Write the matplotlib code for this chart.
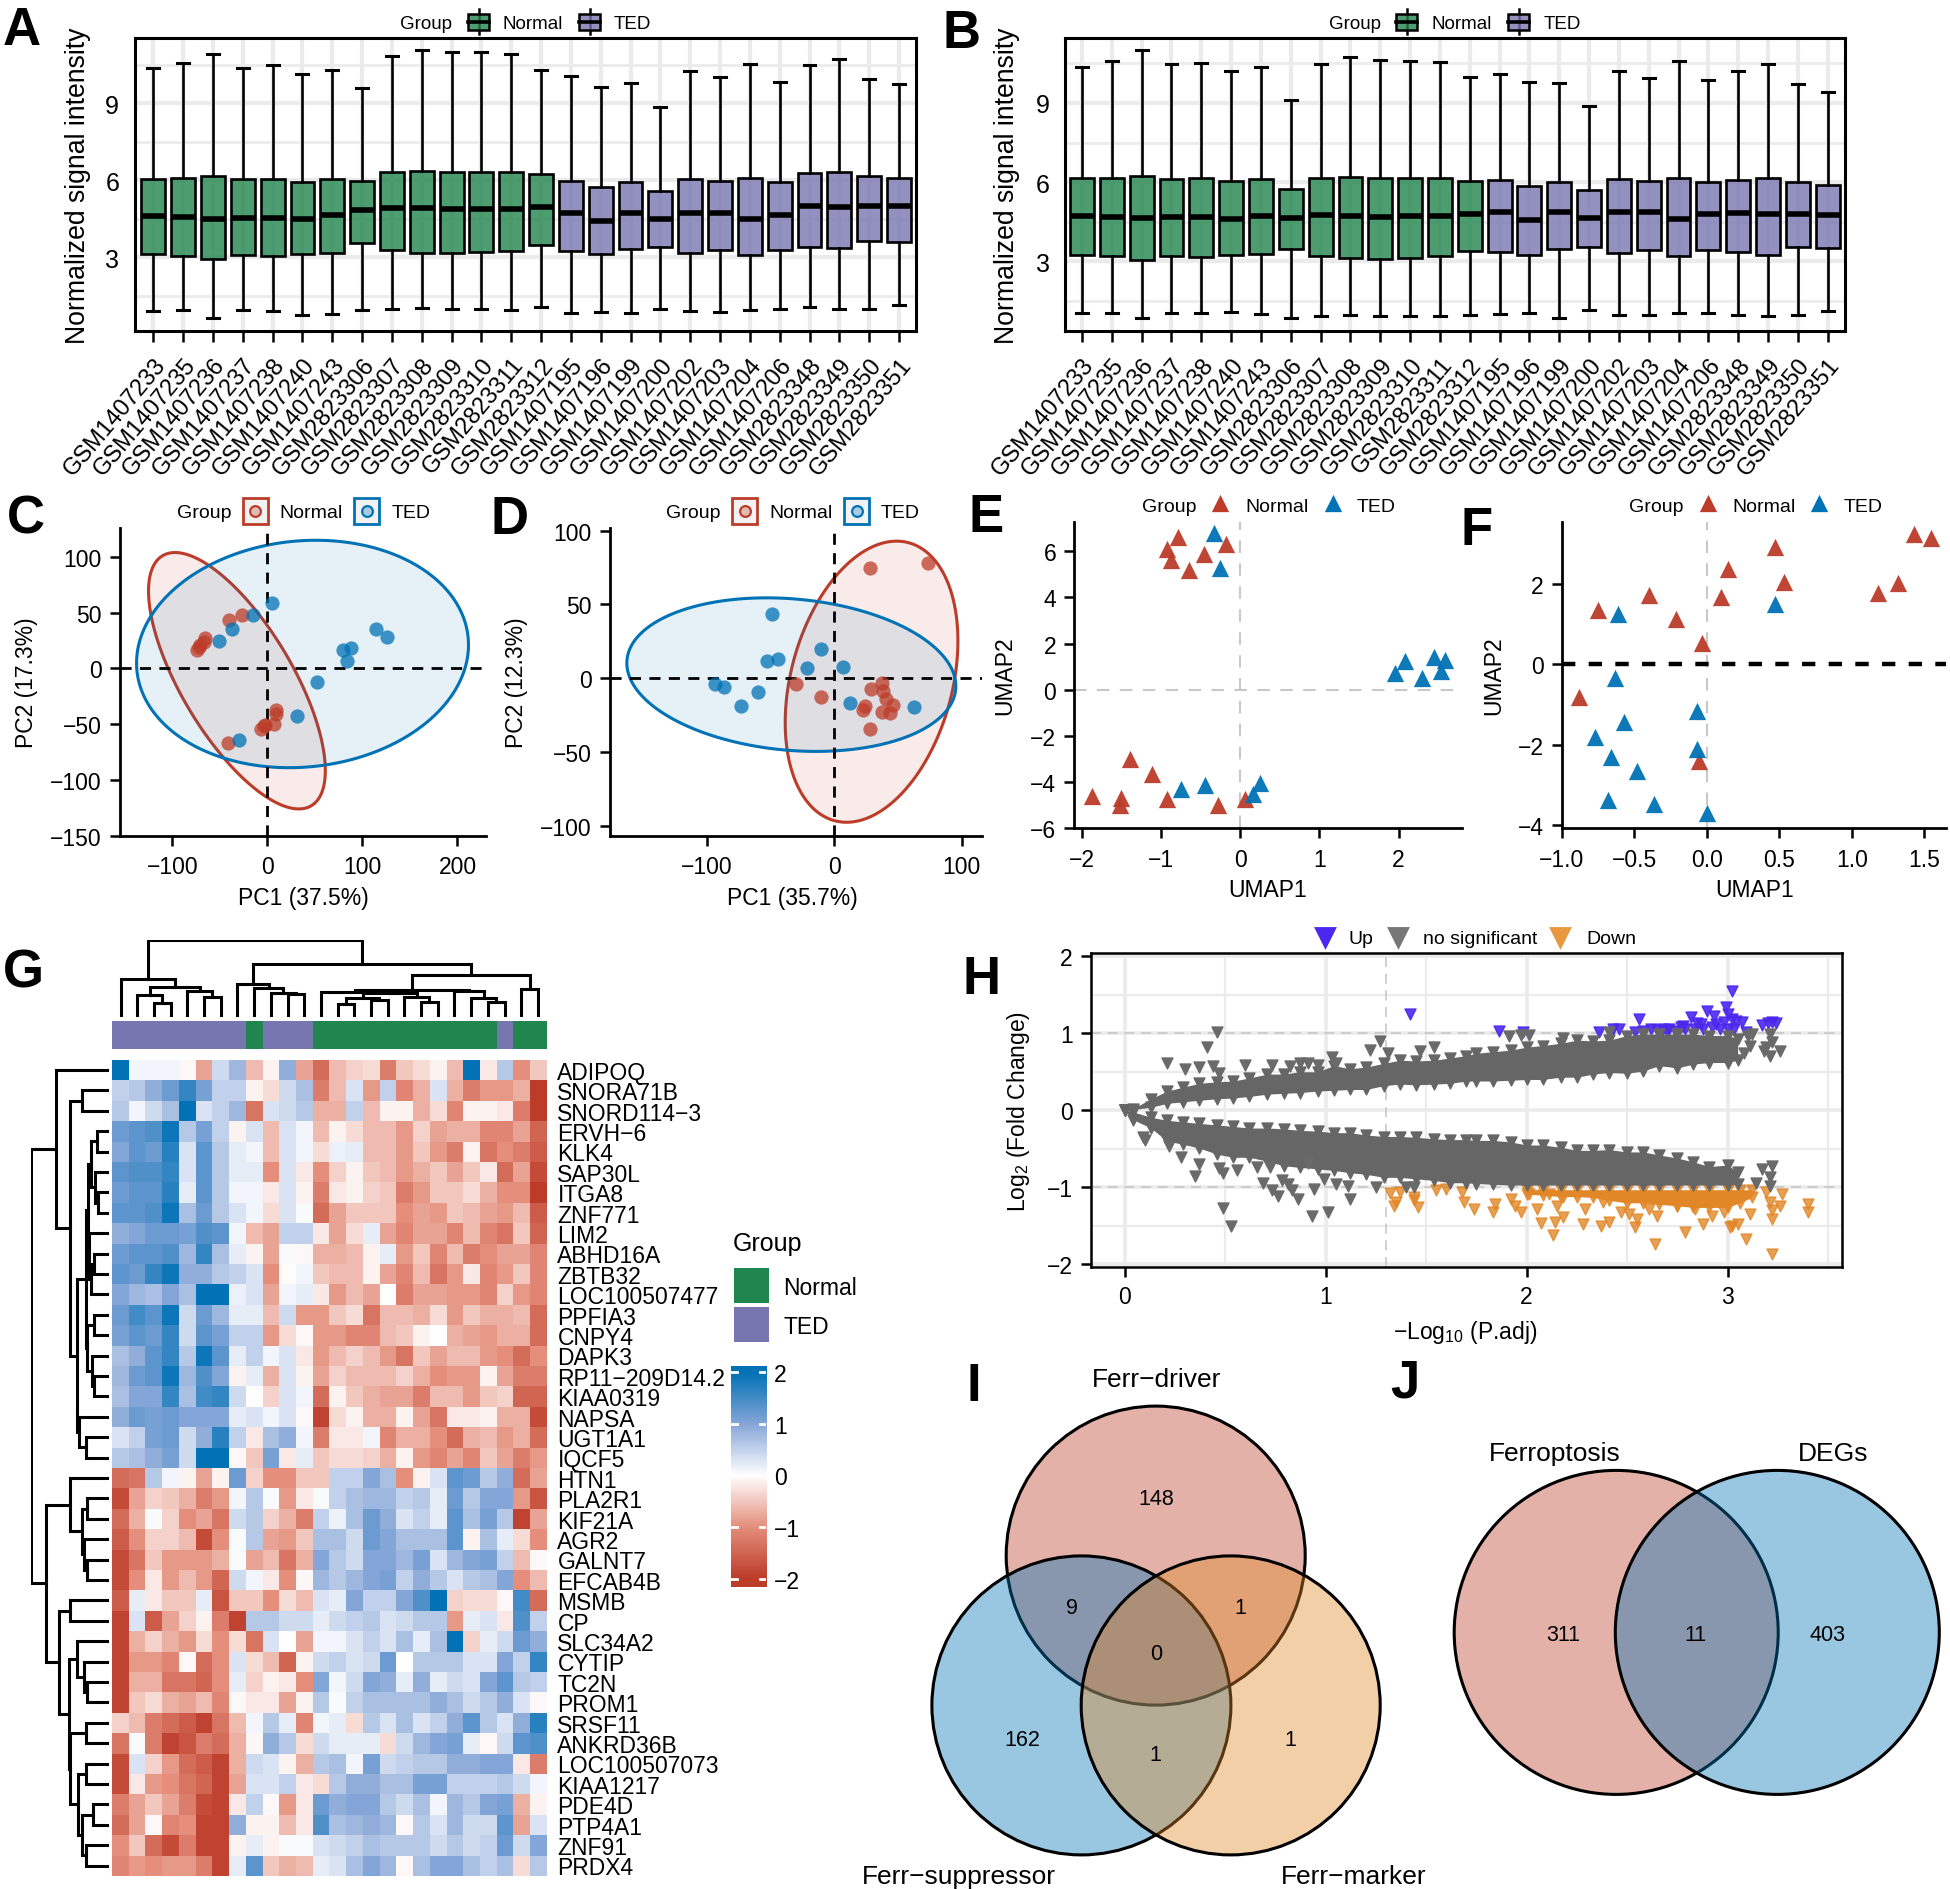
import numpy as np
import matplotlib
matplotlib.use("Agg")
import matplotlib.pyplot as plt
from matplotlib.colors import LinearSegmentedColormap, ListedColormap
from matplotlib.patches import Rectangle, Circle

plt.rcParams['font.family'] = ['Liberation Sans', 'DejaVu Sans']
plt.rcParams['mathtext.default'] = 'regular'
plt.rcParams['axes.unicode_minus'] = True

W, H = 1950, 1890
RED, BLUE, GREEN, PURPLE, ORANGE = '#BC3C29', '#0072B5', '#20854E', '#7876B1', '#E18727'

# --- boxplots A and B
samples = ['GSM1407233', 'GSM1407235', 'GSM1407236', 'GSM1407237', 'GSM1407238', 'GSM1407240', 'GSM1407243',
           'GSM2823306', 'GSM2823307', 'GSM2823308', 'GSM2823309', 'GSM2823310', 'GSM2823311', 'GSM2823312',
           'GSM1407195', 'GSM1407196', 'GSM1407199', 'GSM1407200', 'GSM1407202', 'GSM1407203', 'GSM1407204',
           'GSM1407206', 'GSM2823348', 'GSM2823349', 'GSM2823350', 'GSM2823351']
n_normal = 14

a_top = [10.38, 10.56, 10.91, 10.38, 10.47, 10.15, 10.30, 9.60, 10.82, 11.06, 11.00, 10.98, 10.90, 10.29,
         10.07, 9.64, 9.79, 8.86, 10.25, 10.02, 10.51, 9.83, 10.50, 10.73, 9.95, 9.74]
a_q3 = [6.06, 6.10, 6.15, 6.05, 6.05, 5.95, 6.05, 5.99, 6.31, 6.36, 6.32, 6.32, 6.32, 6.23,
        5.99, 5.75, 5.93, 5.60, 6.05, 5.99, 6.08, 5.93, 6.27, 6.32, 6.15, 6.08]
a_med = [4.61, 4.56, 4.50, 4.54, 4.54, 4.50, 4.63, 4.84, 4.93, 4.91, 4.87, 4.89, 4.87, 4.95,
         4.74, 4.41, 4.72, 4.51, 4.73, 4.73, 4.50, 4.64, 4.99, 4.95, 5.00, 4.98]
a_q1 = [3.12, 3.07, 2.93, 3.09, 3.05, 3.13, 3.16, 3.55, 3.29, 3.17, 3.16, 3.20, 3.26, 3.46,
        3.25, 3.12, 3.33, 3.42, 3.18, 3.29, 3.09, 3.29, 3.42, 3.35, 3.62, 3.59]
a_low = [.90, .94, .63, .94, .92, .77, .81, .94, .97, 1.01, .98, 1.00, .94, 1.05,
         .84, .88, .84, .97, .92, .88, .94, .97, 1.07, 1.00, 1.00, 1.15]

b_top = [10.37, 10.59, 10.99, 10.46, 10.53, 10.22, 10.38, 9.13, 10.46, 10.75, 10.63, 10.59, 10.54, 10.00,
         10.08, 9.78, 9.76, 8.90, 10.22, 9.94, 10.58, 9.86, 10.20, 10.49, 9.70, 9.41]
b_q3 = [6.14, 6.15, 6.24, 6.11, 6.14, 6.05, 6.13, 5.75, 6.14, 6.18, 6.14, 6.14, 6.15, 6.04,
        6.08, 5.87, 5.99, 5.71, 6.10, 6.04, 6.15, 6.00, 6.09, 6.15, 6.00, 5.89]
b_med = [4.72, 4.67, 4.63, 4.67, 4.67, 4.61, 4.73, 4.65, 4.76, 4.72, 4.67, 4.71, 4.71, 4.78,
         4.86, 4.56, 4.86, 4.63, 4.86, 4.86, 4.61, 4.78, 4.84, 4.80, 4.81, 4.77]
b_q1 = [3.25, 3.19, 3.06, 3.20, 3.18, 3.25, 3.27, 3.48, 3.22, 3.13, 3.09, 3.11, 3.19, 3.38,
        3.37, 3.24, 3.47, 3.56, 3.33, 3.41, 3.20, 3.43, 3.34, 3.25, 3.56, 3.52]
b_low = [1.03, 1.05, .86, 1.05, 1.03, 1.08, .99, .85, .94, .96, .91, .92, .92, .97,
         1.00, 1.05, .86, 1.15, .97, .95, 1.06, 1.05, .95, .94, .97, 1.11]

# --- PCA C and D
c_normal_x = [-26.3, -40.8, -65.1, -66.4, -71, -74.3, -72, 9.2, 8.6, 7.2, -2.6, -4, -6.6, -41.4]
c_normal_y = [47.9, 43.1, 26.9, 24, 21, 17, 19, -37.4, -40.4, -50, -50.3, -51.5, -53.9, -66.5]
c_ted_x = [4.6, -15.1, -37.5, -50.7, 113.8, 125.7, 87.5, 79.6, 83.6, 52, 30.9, -30.3]
c_ted_y = [58.4, 47.6, 35.3, 24.9, 35.3, 27.8, 18, 16.8, 6.9, -12.3, -42.2, -64.4]
d_normal_x = [27.9, 73.5, -29.9, -10.3, 28.9, 37.3, 38.2, 40.7, 46, 24, 23, 37.3, 43.6, 28.4]
d_normal_y = [74.5, 77.9, -3.8, -12.6, -7.2, -3.2, -8.4, -14, -17.8, -18.5, -21.2, -23, -23.5, -34.5]
d_ted_x = [-49, -10.3, -52.9, -43.6, -21.6, 6.9, -93.1, -86.3, -59.3, -73, 12.3, 62.7]
d_ted_y = [43.3, 19.9, 11.7, 12.9, 6.8, 7.9, -4.1, -5.9, -9.3, -18.5, -16.7, -19.2]
# ellipses: centre x, centre y, half width, half height, correlation
c_normal_ell = (-32, -11, 93, 115, -0.70)
c_ted_ell = (37, 13, 174.6, 102, 0.08)
d_normal_ell = (29.4, -2.3, 67.7, 95.2, 0.29)
d_ted_ell = (-33.5, 2.5, 129, 52, -0.15)

# --- UMAP E and F
e_normal_x = [-.79, -.92, -.88, -.65, -.46, -.18, -1.39, -1.12, -1.87, -1.5, -1.52, -.93, -.28, .06]
e_normal_y = [6.6, 6.1, 5.6, 5.2, 5.9, 6.3, -3.0, -3.66, -4.62, -4.7, -5.0, -4.71, -4.99, -4.74]
e_ted_x = [-.33, -.25, 2.08, 1.96, 2.3, 2.45, 2.58, 2.53, -.75, -.45, .16, .25]
e_ted_y = [6.78, 5.27, 1.23, .71, .51, 1.4, 1.29, .82, -4.28, -4.13, -4.52, -4.05]
f_normal_x = [1.43, 1.55, .47, .15, .53, 1.32, 1.18, .10, -.40, -.75, -.21, -.03, -.88, -.05]
f_normal_y = [3.24, 3.13, 2.92, 2.37, 2.05, 2.01, 1.76, 1.67, 1.71, 1.35, 1.12, .54, -.82, -2.39]
f_ted_x = [.47, -.61, -.63, -.07, -.57, -.77, -.07, -.66, -.48, -.68, -.36, 0]
f_ted_y = [1.5, 1.25, -.34, -1.15, -1.44, -1.81, -2.09, -2.29, -2.64, -3.36, -3.47, -3.7]

# --- heatmap G
genes = ['ADIPOQ', 'SNORA71B', 'SNORD114\u22123', 'ERVH\u22126', 'KLK4', 'SAP30L', 'ITGA8', 'ZNF771', 'LIM2',
         'ABHD16A', 'ZBTB32', 'LOC100507477', 'PPFIA3', 'CNPY4', 'DAPK3', 'RP11\u2212209D14.2', 'KIAA0319',
         'NAPSA', 'UGT1A1', 'IQCF5', 'HTN1', 'PLA2R1', 'KIF21A', 'AGR2', 'GALNT7', 'EFCAB4B', 'MSMB', 'CP',
         'SLC34A2', 'CYTIP', 'TC2N', 'PROM1', 'SRSF11', 'ANKRD36B', 'LOC100507073', 'KIAA1217', 'PDE4D',
         'PTP4A1', 'ZNF91', 'PRDX4']
# 0 Normal, 1 TED
col_groups = [1, 1, 1, 1, 1, 1, 1, 1, 0, 1, 1, 1, 0, 0, 0, 0, 0, 0, 0, 0, 0, 0, 0, 1, 0, 0]
heat = [
    [2, .1, .1, .1, -.05, -.8, .4, .8, -.6, -.1, .9, -.8, -1.4, -.6, -.4, -.3, -1.2, -.5, -.3, -.1, -.6, 2, -.2, .6, -1.0, -.5],
    [.5, .6, .9, 1.2, 1.6, 1.1, .5, .5, -.1, -.3, .4, .7, -1.2, -.6, .3, -.9, .5, -1.1, -.7, .3, -.7, -1.2, -.9, -.9, -.7, -2],
    [.6, .1, .4, .7, 2, .3, .5, .8, -1.3, .3, .4, .6, -.7, -.7, .5, -.6, -.1, -.1, -.7, -.3, -1.1, -.1, -.1, -.2, -1.2, -2],
    [1.2, 1.3, 1.4, 1.9, .6, 1.1, .5, -.1, .3, -.6, .3, .1, -.6, -.1, -.3, -.6, -.6, -.9, -.4, -.8, -.7, -.7, -1.1, -1.1, -.8, -1.5],
    [1.0, 1.3, 1.2, 1.7, .3, 1.3, .6, .2, .1, -.6, .3, .1, -.3, .15, .2, -.6, -.6, -.9, -.5, -.9, -1.2, -.1, -1.3, -1.0, -1.2, -1.6],
    [1.3, 1.4, 1.4, 1.6, .3, 1.3, .6, .2, .2, -1, .3, -.2, -1, -.4, -.1, -.5, -.6, -.9, -.7, -.5, -.8, -.5, -.2, -1.4, -.8, -1.8],
    [1.2, 1.3, 1.3, 1.7, .2, 1.3, .6, .1, .1, -.2, .3, -.1, -1.2, -.2, -.1, -.4, -.5, -1.2, -.9, -.5, -.5, -.3, -.7, -1, -1, -2],
    [1.3, 1.3, 1.4, 1.9, .7, 1.2, .6, .3, .1, -.3, .3, .05, -1.4, -.8, -.5, -.5, -.5, -1, -.8, -.9, -.5, -.6, -.8, -.9, -.6, -1.6],
    [.9, 1.0, 1.2, 1.2, 1.1, 1.4, 1.3, .1, -.6, -.8, .5, .5, -.2, -.8, -.3, .2, -.8, -1.1, -.8, -.8, -1.1, -.6, -1.1, -1.3, -.5, -1.5],
    [1.2, 1.3, 1.3, 1.4, .8, 1.6, .7, .2, -.1, -.8, .05, -.05, -.7, -.7, -.6, -.1, .2, -.9, -.5, -1.1, -.6, -1.2, -1.0, -.8, -.8, -1.1],
    [1.3, 1.2, 1.6, 1.9, .9, .9, .6, .5, .3, -1.0, -.02, .1, -.5, -.6, -.6, -.1, -.8, -1.1, -.6, -1.3, -.9, -.2, -1.1, -.9, -.5, -1.1],
    [1.0, .8, .7, 1.0, .7, 2, 2, .15, .3, -.8, .1, .2, -.2, -.9, -.6, -.8, 0, -1.2, -.8, -.8, -.9, -.9, -1.1, -.4, -.9, -1.1],
    [1.2, 1.5, 1.3, 1.9, .4, 1.2, .8, .2, .2, -.6, .4, -.9, -.9, -.5, -.3, -1.3, -.6, -.6, -.7, -.3, -.9, -.5, -.7, -.7, -.6, -1.4],
    [1.1, 1.3, 1.2, 1.6, .4, 1.3, 1.1, .5, .5, -.9, -.3, -.05, -.9, -.9, -1.1, -1.1, -.6, -.5, -.1, 0, -.7, -.8, -.9, -.7, -.7, -1.4],
    [.7, .9, 1.3, 1.6, .6, 1.9, 1.3, .2, .5, .1, .3, -.2, -.9, -.6, -.4, -.6, -.9, -1.3, -.5, -.8, -.6, -.6, -.9, -1, -1.4, -1],
    [.8, 1.2, 1.3, 1.9, .8, 1.4, 1, -.1, .2, -.7, .3, -.1, -.8, -.4, -.6, -.6, -.6, -.4, -.7, -1, -.9, -.9, -.1, -.8, -1.2, -1.2],
    [.7, 1.0, 1.0, 1.6, .7, 1.5, 1.6, .4, 0, -.4, .3, .1, -1.4, -.1, -.5, -.7, -.8, -.8, -1.2, -.6, -.6, -.9, -.5, -.4, -1.5, -1.5],
    [.9, 1.2, 1.1, 1.2, 1, 1, 1, .2, .3, .1, .3, -.05, -1.9, -.3, -.1, -.7, -.7, -.1, -.8, -1.3, -.2, -.2, -.1, -.7, -.7, -1.8],
    [.3, .5, 1.1, 1.2, .4, .9, 1.7, .5, -.2, .7, .9, .1, -1.2, -.2, -.2, .1, -1.1, -.7, -.7, -1, -1.4, -.7, -.6, -.9, -.7, -1.4],
    [.6, .7, .9, 1.1, .4, 2, 2, -.05, -.5, 1.1, -.2, .2, -.5, -.3, -.3, -.4, -.7, -.1, -.9, -1.1, -.8, -1.1, -.5, -.8, -1.2, -.9],
    [-1.4, -1.3, .6, .1, -.1, -.8, -.1, 1.2, -.4, -1, -1, -.5, -.5, .5, .5, 1, .7, -1, -.1, .3, 1.3, 1.2, .6, .9, -1.4, -.8],
    [-1.8, -.8, -.4, -.5, -.7, -1.2, -.9, .1, .6, .05, -.9, -.2, .05, .5, .7, .8, .8, .5, .6, .2, 1.2, .6, 1, 1, -.9, -1.7],
    [-1.4, -.7, .05, -.4, -1, -.8, -1.3, .4, .6, -.4, -.7, -1.2, .5, .15, .7, 1.2, .9, .3, .5, .2, 1.3, .7, 1.1, .6, -1.9, -.8],
    [-1.6, -1, -.4, -.4, -.6, -1.8, -1.0, .05, .6, -.8, -.9, -.5, .7, .7, .4, 1.2, 1, .7, .7, .7, 1.3, -.1, .7, .2, -.3, -1],
    [-1.8, -1.3, -.5, -.9, -.9, -.9, -.7, .05, -.8, -.6, -1.3, -.7, 1, .6, .4, 1, 1, .8, 1.1, .3, .8, 1, 1.1, .5, -.6, -.05],
    [-1.8, -1, -.2, -.9, -.6, -.9, -1.5, .4, .1, -.2, -1, -.05, .8, .6, .8, 1, 1.1, .5, .9, .6, .3, .6, .7, 1, -1, -.6],
    [-1.6, .2, -.2, -.5, -.5, .2, -1.7, -.5, -.5, -1, -.3, -.6, .3, .2, 1, .5, .5, 1, 1.4, 2, -.4, -.3, -.3, -.05, 1.5, -1.4],
    [-1.9, .3, -1.6, -.8, -.4, -.1, -1.2, -1.9, .6, .6, .4, .4, .2, .4, .5, .6, .3, .4, .6, .6, -.9, .2, .3, -.2, 1.4, .5],
    [-1.9, -.7, -.4, -.7, -.9, -.3, -1, -.3, -1.3, .3, 0, -.8, .1, .1, .3, .5, .3, .7, .2, .7, 2, -.4, .2, .4, 1.2, .9],
    [-1.9, -.9, -.9, -1.1, -.05, -1.4, -1.0, .3, -.3, -.6, -1.5, -.1, .4, .5, .3, .4, 1.2, 0, .6, .6, .6, .3, .3, 1, .5, 1.6],
    [-1.9, -.7, -.7, -1.3, -1.3, -1.5, -1.0, .2, -.4, -.1, -.2, -1, 1, .1, .4, 1, .9, .2, .9, .2, .4, .3, 1, 1.3, .6, .5],
    [-1.9, -.5, -.3, -.7, -.8, -.6, -1.1, -.05, -.2, -.2, -.8, -.1, .6, .05, .5, .7, .7, .7, .7, .9, .7, .4, .6, .9, .3, -.05],
    [-.4, -.6, -1.2, -1.4, -1.6, -1.9, -1.3, -.6, .1, .6, .2, -1.1, .1, .2, -.3, .6, .3, .7, .3, .5, .9, 1.3, .6, .3, .9, 1.7],
    [-1.3, .05, -1.2, -1.9, -1.7, -1.2, -1.4, -.7, -.05, .9, .6, -.3, .4, .2, .2, .2, -.3, .4, .8, 1, 1.1, .2, -.05, .4, 1.3, 1.4],
    [-1.8, .3, -.4, -.9, -1.4, -1.6, -1.9, -.7, .4, .3, -.1, -.7, .6, .7, .1, 1.1, .4, .5, .6, .6, .9, .9, 1, 1, -.2, -1.2],
    [-1.8, -.2, -.9, -1, -1.3, -1.5, -1.9, -.8, .3, .3, .5, -.2, -.3, .6, .9, .9, .7, .7, 1.1, 1.1, .5, .5, .5, .6, .4, .1],
    [-1.2, -.8, -.5, -.8, -1.2, -1.8, -1.9, -.2, .5, -.05, -.9, -.2, 1.2, .9, 1, 1, .6, .4, .7, .1, .8, .6, 1, 1.1, -.7, -.1],
    [-1.4, -.8, -.05, -1.1, -1, -1.9, -1.9, .9, -.1, -.1, -.6, -.2, 1.4, .7, .8, .9, .8, -.05, .6, .3, .8, .4, .4, 1.3, -.8, .3],
    [-1, -.5, -1.4, -1.8, -1.2, -1.9, -1.9, -.1, .2, -.1, .05, .05, .3, .4, .5, .7, .6, .6, .6, .4, .6, .4, .5, 1.2, .4, 1],
    [-1.1, -.9, -1, -.9, -.9, -1.2, -1.9, .2, 1.3, -.5, -.7, -.6, .2, .3, .7, 1, .8, -.05, .7, 1, 1, .7, .5, .7, -.3, .6],
]

# dendrograms: (height, left, right), leaves are L and come in plot order
L = None
col_tree = (10.0,
            (4.89, L, (3.81, (2.81, L, (1.77, L, L)), (3.29, L, (2.51, L, L)))),
            (6.84,
             (4.24, L, (3.68, L, (3.07, L, (2.94, L, L)))),
             (5.45,
              (3.46,
               (3.25, L, (3.07, (2.42, (1.65, L, L), (2.21, L, L)), (2.51, L, (1.86, L, L)))),
               (3.38, L, (2.38, L, (1.95, L, L)))),
              (3.59, L, L))))
rows_a = (2.24, (1.5, L, L), (1.7, L, (1.36, L, L)))
rows_b = (2.52, L, (2.24, (1.84, L, L), L))
rows_c = (2.72, (1.84, L, L), (2.18, L, (1.84, L, L)))
rows_d = (3.74, L, (2.86, L, L))
rows_e = (4.08, (2.86, (2.6, rows_a, rows_b), rows_c), rows_d)
rows_f = (4.9, L, (3.4, (2.72, L, L), (3.2, L, (2.72, L, L))))
rows_g = (4.08, L, (3.2, L, (2.72, L, L)))
rows_h = (5.0, (2.86, L, L), (3.95, (2.86, L, L), (3.4, (2.04, L, L), (2.86, L, L))))
row_tree = (10.0,
            (6.8, L, (4.9, (3.4, L, L), rows_e)),
            (8.03, rows_f, (6.33, (4.9, L, L), (5.1, rows_g, rows_h))))

# --- volcano H: outline of the solid grey bands, then the points that stand apart
env_x = [0, .04, .13, .21, .29, .37, .46, .54, .62, .71, .79, .87, .96, 1.04, 1.12, 1.20, 1.29, 1.37, 1.45, 1.54, 1.62,
         1.70, 1.75, 1.83, 1.92, 2.0, 2.08, 2.17, 2.25, 2.33, 2.41, 2.5, 2.58, 2.66, 2.75, 2.83, 2.91, 3.0, 3.05]
up_hi = [0, .02, .15, .25, .30, .35, .37, .38, .42, .47, .47, .50, .50, .58, .54, .56, .61, .65, .64, .65, .68,
         .71, .74, .76, .78, .82, .84, .87, .91, .90, .91, .97, .99, .99, .99, .99, .97, .97, .93]
up_lo = [0, .01, .04, .09, .11, .13, .15, .16, .18, .21, .22, .23, .25, .26, .27, .27, .32, .34, .33, .34, .35,
         .38, .38, .38, .39, .40, .40, .43, .43, .47, .49, .48, .51, .58, .55, .60, .62, .62, .65]
dn_hi = [0, -.02, -.09, -.13, -.15, -.17, -.19, -.21, -.23, -.23, -.24, -.26, -.27, -.29, -.29, -.32, -.34, -.34, -.35,
         -.37, -.38, -.38, -.39, -.39, -.41, -.45, -.45, -.48, -.52, -.52, -.51, -.54, -.54, -.58, -.62, -.67, -.73,
         -.71, -.8]
dn_lo = [0, -.12, -.23, -.40, -.44, -.49, -.57, -.61, -.61, -.66, -.72, -.74, -.76, -.78, -.81, -.83, -.87, -.87, -.89,
         -.91, -.94, -.94, -.95, -.96, -.97, -.97, -.97, -.97, -.97, -.97, -.97, -.97, -.97, -.97, -.97, -.97, -.97,
         -.97, -.96]
grey_x = [.46, .41, .21, .30, .37, .44, .47, .60, .73, .82, .87, .91, .96, 1.03, 1.05, 1.27, 1.22, 1.31, 1.47, 1.54,
          1.91, 1.97, 2.01, 2.18, 2.41, 3.10, 3.12, 3.22, 3.11, 3.19, 3.08, 3.21, 3.26, 3.18, 3.21,
          .09, .10, .22, .28, .37, .35, .47, .49, .56, .49, .53, .66, .69, .73, .76, .86, .93, 1.01, 1.12, 1.05, .94,
          .83, .78, .81, .99, 1.11, 1.25, 1.40, 1.44, .72, .91, 3.17, 3.22, 3.21, 3.21, 3.14]
grey_y = [1.02, .82, .61, .53, .56, .57, .48, .59, .59, .57, .62, .62, .59, .69, .62, .90, .78, .74, .77, .82,
          .97, .98, .98, .94, 1.01, .97, .99, .88, .84, .82, .74, .71, .77, .77, .99,
          -.35, -.39, -.46, -.6, -.7, -.85, -.75, -.81, -.78, -1.27, -1.5, -.74, -.94, -1.04, -1.11, -1.15, -1.37,
          -1.32, -1.15, -.96, -1.02, -1.04, -.91, -.96, -.89, -.98, -1.0, -1.0, -1.0, -.74, -.68, -.76, -.72, -.87,
          -.98, -.94]
up_x = [1.42, 1.86, 1.98, 2.36, 2.43, 2.46, 2.56, 2.54, 2.62, 2.68, 2.77, 2.82, 2.87, 2.9, 2.93, 2.99, 3.0, 3.02, 3.02,
        3.07, 3.09, 3.17, 3.22, 3.24, 3.2, 2.58, 2.65, 2.71, 2.74, 2.79, 2.84, 2.88, 2.92, 2.96, 3.0, 3.03, 2.94, 2.98,
        3.04, 2.85, 2.78, 2.7]
up_y = [1.25, 1.03, 1.01, 1.02, 1.05, 1.05, 1.18, 1.01, 1.06, 1.06, 1.08, 1.21, 1.12, 1.29, 1.22, 1.34, 1.25, 1.55,
        1.19, 1.14, 1.02, 1.11, 1.14, 1.13, 1.13, 1.03, 1.04, 1.05, 1.03, 1.05, 1.06, 1.05, 1.08, 1.05, 1.05, 1.05, 1.12,
        1.14, 1.16, 1.13, 1.1, 1.03]
down_x = [1.32, 1.37, 1.35, 1.34, 1.44, 1.44, 1.46, 1.55, 1.6, 1.68, 1.69, 1.74, 1.84, 1.83, 1.92, 1.94, 1.97, 2.05,
          2.01, 2.11, 2.18, 2.15, 2.07, 2.14, 2.18, 2.13, 2.28, 2.37, 2.41, 2.29, 2.38, 2.47, 2.51, 2.55, 2.54, 2.64,
          2.79, 2.88, 3.02, 3.05, 3.01, 3.09, 3.22, 3.19, 3.27, 3.21, 3.26, 3.22, 3.22, 3.4, 3.4, 3.11, 2.98, 2.92,
          2.84, 2.65, 2.61, 2.75]
down_y = [-1.07, -1.06, -1.19, -1.24, -1.12, -1.17, -1.26, -1.04, -1.02, -1.06, -1.19, -1.28, -1.22, -1.32, -1.15,
          -1.24, -1.32, -1.28, -1.09, -1.09, -1.13, -1.24, -1.46, -1.45, -1.39, -1.62, -1.48, -1.5, -1.45, -1.28, -1.19,
          -1.32, -1.35, -1.41, -1.52, -1.74, -1.58, -1.48, -1.5, -1.48, -1.52, -1.67, -1.87, -1.06, -1.09, -1.19, -1.24,
          -1.3, -1.41, -1.21, -1.32, -1.35, -1.32, -1.37, -1.28, -1.37, -1.28, -1.24]
band_x = [2.0, 2.08, 2.17, 2.25, 2.33, 2.41, 2.5, 2.58, 2.66, 2.75, 2.83, 2.91, 3.0, 3.06, 3.12]
band_hi = [-1.03, -1.03, -1.03, -1.03, -1.03, -1.03, -1.03, -1.03, -1.03, -1.03, -1.03, -1.03, -1.03, -1.03, -1.03]
band_lo = [-1.09, -1.10, -1.12, -1.12, -1.13, -1.17, -1.2, -1.2, -1.22, -1.24, -1.26, -1.26, -1.26, -1.2, -1.13]

# --- venn I and J
venn_i_counts = ['148', '9', '1', '0', '162', '1', '1']
venn_j_counts = ['311', '11', '403']

fig = plt.figure(figsize=(W / 100, H / 100), dpi=100)
fig.patch.set_facecolor('white')


def px_axes(l, t, r, b):
    return fig.add_axes([l / W, 1 - b / H, (r - l) / W, (b - t) / H])


def draw_boxes(ax, top, q3, med, q1, low, ylim, xlim):
    stats = [dict(whishi=top[i], q3=q3[i], med=med[i], q1=q1[i], whislo=low[i], fliers=[]) for i in range(len(top))]
    pos = np.arange(1, len(top) + 1)
    ax.set_axisbelow(True)
    parts = ax.bxp(stats, positions=pos, widths=.8, capwidths=.4, patch_artist=True, showfliers=False,
                   boxprops=dict(linewidth=1.9, edgecolor='black'), medianprops=dict(color='black', linewidth=4),
                   whiskerprops=dict(color='black', linewidth=1.9), capprops=dict(color='black', linewidth=2.2))
    for i, box in enumerate(parts['boxes']):
        col = GREEN if i < n_normal else PURPLE
        box.set_facecolor(matplotlib.colors.to_rgba(col, .8))
    ax.set_xlim(*xlim)
    ax.set_ylim(*ylim)
    ax.set_yticks([3, 6, 9])
    ax.set_yticks([1.5, 4.5, 7.5, 10.5], minor=True)
    ax.grid(True, which='major', color='#EBEBEB', linewidth=3)
    ax.grid(True, which='minor', axis='y', color='#EBEBEB', linewidth=2)
    ax.tick_params(axis='y', which='both', length=0, labelsize=18, pad=11)
    ax.tick_params(axis='x', length=8, width=1.8, pad=8)
    ax.set_xticks(pos)
    ax.set_xticklabels(samples, rotation=50, ha='right', va='top', rotation_mode='anchor', fontsize=17)
    for s in ax.spines.values():
        s.set_linewidth(2.2)


ax_a = px_axes(134.5, 39, 916, 332)
draw_boxes(ax_a, a_top, a_q3, a_med, a_q1, a_low, (.13, 11.54), (.37, 26.57))
ax_b = px_axes(1065, 39, 1845, 332)
draw_boxes(ax_b, b_top, b_q3, b_med, b_q1, b_low, (.36, 11.46), (.43, 26.58))


def style_axes(ax, xlim, ylim, xticks, yticks):
    ax.set_xlim(*xlim)
    ax.set_ylim(*ylim)
    ax.set_xticks(xticks)
    ax.set_yticks(yticks)
    ax.spines['top'].set_visible(False)
    ax.spines['right'].set_visible(False)
    ax.spines['left'].set_linewidth(2)
    ax.spines['bottom'].set_linewidth(2)
    ax.tick_params(length=7, width=1.8, labelsize=16.5, pad=6)
    ax.tick_params(axis='x', pad=7)


def draw_ellipse(ax, ell, col):
    cx, cy, ex, ey, rho = ell
    t = np.linspace(0, 2 * np.pi, 200)
    x = cx + ex * np.cos(t)
    y = cy + ey * (rho * np.cos(t) + np.sqrt(1 - rho ** 2) * np.sin(t))
    ax.fill(x, y, facecolor=matplotlib.colors.to_rgba(col, .1), edgecolor=col, linewidth=2.2, zorder=2)


def pca_panel(ax, normal, ted, ell_n, ell_t):
    draw_ellipse(ax, ell_n, RED)
    draw_ellipse(ax, ell_t, BLUE)
    ax.axhline(0, color='black', linestyle=(0, (4, 3)), linewidth=2, zorder=3)
    ax.axvline(0, color='black', linestyle=(0, (4, 3)), linewidth=2, zorder=3)
    ax.scatter(*normal, s=105, color=RED, alpha=.75, linewidths=0, zorder=4)
    ax.scatter(*ted, s=105, color=BLUE, alpha=.75, linewidths=0, zorder=4)


ax_c = px_axes(120, 529, 485.6, 836.7)
pca_panel(ax_c, (c_normal_x, c_normal_y), (c_ted_x, c_ted_y), c_normal_ell, c_ted_ell)
style_axes(ax_c, (-155, 229.6), (-150, 126), [-100, 0, 100, 200], [-150, -100, -50, 0, 50, 100])

ax_d = px_axes(610, 529, 982, 836.7)
pca_panel(ax_d, (d_normal_x, d_normal_y), (d_ted_x, d_ted_y), d_normal_ell, d_ted_ell)
style_axes(ax_d, (-175.7, 116), (-106.6, 101.8), [-100, 0, 100], [-100, -50, 0, 50, 100])

ax_e = px_axes(1074.3, 522.7, 1462, 829.3)
ax_e.axhline(0, color='#C8C8C8', linestyle=(0, (6, 5)), linewidth=1.5, zorder=1)
ax_e.axvline(0, color='#C8C8C8', linestyle=(0, (6, 5)), linewidth=1.5, zorder=1)
ax_e.scatter(e_normal_x, e_normal_y, marker='^', s=155, color=RED, alpha=.95, linewidths=0, zorder=3)
ax_e.scatter(e_ted_x, e_ted_y, marker='^', s=155, color=BLUE, alpha=.95, linewidths=0, zorder=3)
style_axes(ax_e, (-2.095, 2.8), (-6, 7.28), [-2, -1, 0, 1, 2], [-6, -4, -2, 0, 2, 4, 6])

ax_f = px_axes(1561.6, 522.7, 1946, 829.3)
ax_f.axhline(0, color='black', linestyle=(0, (3, 3)), linewidth=3.2, zorder=2)
ax_f.axvline(0, color='#C8C8C8', linestyle=(0, (6, 5)), linewidth=1.5, zorder=1)
ax_f.scatter(f_normal_x, f_normal_y, marker='^', s=155, color=RED, alpha=.95, linewidths=0, zorder=3)
ax_f.scatter(f_ted_x, f_ted_y, marker='^', s=155, color=BLUE, alpha=.95, linewidths=0, zorder=3)
style_axes(ax_f, (-1.0, 1.65), (-4.07, 3.54), [-1.0, -.5, 0, .5, 1.0, 1.5], [-4, -2, 0, 2])
ax_f.set_xticklabels([('%.1f' % v).replace('-', '\u2212') for v in [-1.0, -.5, 0, .5, 1.0, 1.5]])

# heatmap and its dendrograms
heat_cmap = LinearSegmentedColormap.from_list('heat', [RED, '#E58E7C', '#FFFFFF', '#86A6D8', BLUE])
ax_g = px_axes(112.2, 1060.7, 546.3, 1876.7)
ax_g.imshow(np.array(heat), cmap=heat_cmap, vmin=-2, vmax=2, aspect='auto', interpolation='nearest')
ax_g.set_xticks([])
ax_g.yaxis.tick_right()
ax_g.set_yticks(np.arange(len(genes)))
ax_g.set_yticklabels(genes, fontsize=16.5)
ax_g.tick_params(axis='y', length=0, pad=8)
for s in ax_g.spines.values():
    s.set_visible(False)

ax_ann = px_axes(112.2, 1022.3, 546.3, 1050)
ax_ann.imshow(np.array([col_groups]), cmap=ListedColormap([GREEN, PURPLE]), vmin=0, vmax=1, aspect='auto',
              interpolation='nearest')
ax_ann.axis('off')


def tree_lines(node, counter, segs):
    if node is None:
        counter[0] += 1
        return counter[0] - 1, 0.0
    h, left, right = node
    p1, h1 = tree_lines(left, counter, segs)
    p2, h2 = tree_lines(right, counter, segs)
    segs.append(([p1, p1, p2, p2], [h1, h, h, h2]))
    return (p1 + p2) / 2, h


ax_top = px_axes(112.2, 940.7, 546.3, 1017.7)
segs = []
tree_lines(col_tree, [0], segs)
for pos, hs in segs:
    ax_top.plot(pos, hs, color='black', linewidth=2.2, solid_joinstyle='miter')
ax_top.set_xlim(-.5, 25.5)
ax_top.set_ylim(0, 10)
ax_top.axis('off')

ax_left = px_axes(30.7, 1060.7, 108.5, 1876.7)
segs = []
tree_lines(row_tree, [0], segs)
for pos, hs in segs:
    ax_left.plot(hs, pos, color='black', linewidth=2.2, solid_joinstyle='miter')
ax_left.set_xlim(10, 0)
ax_left.set_ylim(39.5, -.5)
ax_left.axis('off')

# colour bar
ax_cb = px_axes(730.5, 1367, 766, 1588)
grad = np.linspace(2.11, -2.15, 256).reshape(-1, 1)
ax_cb.imshow(grad, cmap=heat_cmap, vmin=-2, vmax=2, aspect='auto', extent=(0, 1, -2.15, 2.11))
for v in [-2, -1, 0, 1, 2]:
    ax_cb.plot([0, .18], [v, v], color='white', linewidth=2)
    ax_cb.plot([.82, 1], [v, v], color='white', linewidth=2)
ax_cb.set_xlim(0, 1)
ax_cb.set_ylim(-2.15, 2.11)
ax_cb.set_xticks([])
ax_cb.yaxis.tick_right()
ax_cb.set_yticks([-2, -1, 0, 1, 2])
ax_cb.tick_params(axis='y', length=0, labelsize=16.5, pad=6)
for s in ax_cb.spines.values():
    s.set_visible(False)

# volcano
ax_h = px_axes(1090.9, 954.3, 1842.3, 1268.3)
ax_h.set_axisbelow(True)
ax_h.set_xlim(-.169, 3.571)
ax_h.set_ylim(-2.037, 2.037)
ax_h.set_xticks([0, 1, 2, 3])
ax_h.set_yticks([-2, -1, 0, 1, 2])
ax_h.set_xticks([.5, 1.5, 2.5, 3.5], minor=True)
ax_h.set_yticks([-1.5, -.5, .5, 1.5], minor=True)
ax_h.grid(True, which='major', color='#EBEBEB', linewidth=2.6)
ax_h.grid(True, which='minor', color='#EBEBEB', linewidth=1.6)
ax_h.tick_params(which='minor', length=0)
ax_h.tick_params(which='major', length=7, width=1.8, labelsize=16.5, pad=6)
for s in ax_h.spines.values():
    s.set_linewidth(1.8)
for v in [-1, 1]:
    ax_h.axhline(v, color='#C8C8C8', linestyle=(0, (6, 4)), linewidth=1.2, zorder=1)
ax_h.axvline(1.3, color='#C8C8C8', linestyle=(0, (6, 4)), linewidth=1.2, zorder=1)
tri = dict(marker='v', s=62, linewidths=1.0)
ax_h.fill_between(band_x, band_lo, band_hi, color=ORANGE, linewidth=0, zorder=2)
ax_h.scatter(band_x + band_x, band_lo + band_hi, color=ORANGE, alpha=.85, zorder=2, **tri)
ax_h.scatter(down_x, down_y, color=ORANGE, alpha=.8, zorder=2, **tri)
ax_h.scatter(up_x, up_y, color='#4A28EE', alpha=.9, zorder=2, **tri)
for lo, hi in [(up_lo, up_hi), (dn_lo, dn_hi)]:
    ax_h.fill_between(env_x, lo, hi, color='#666666', linewidth=0, zorder=3)
    ax_h.scatter(env_x + env_x, lo + hi, color='#666666', zorder=3, **tri)
ax_h.scatter(grey_x, grey_y, color='#6A6A6A', zorder=3, **tri)

# overlay in pixel coordinates: panel letters, legends, axis titles, venns
ov = fig.add_axes([0, 0, 1, 1], zorder=10)
ov.set_xlim(0, W)
ov.set_ylim(H, 0)
ov.axis('off')
ov.patch.set_alpha(0)


def txt(x, y, s, size=16.5, ha='left', va='center', **kw):
    if va == 'center' and 'rotation' not in kw:
        y += 1.5
    ov.text(x, y, s, fontsize=size, ha=ha, va=va, **kw)


letters = [('A', 3, 45), ('B', 943, 48), ('C', 7, 534), ('D', 491, 534), ('E', 968, 532), ('F', 1460, 545),
           ('G', 3, 987), ('H', 963, 994), ('I', 966, 1401), ('J', 1390, 1397)]
for s, x, y in letters:
    txt(x, y, s, size=38, va='baseline', fontweight='bold')

for x, y in [(78, 186), (1007, 186)]:
    txt(x, y, 'Normalized signal intensity', size=19.2, ha='center', rotation=90)
for x, y, s in [(26, 683, 'PC2 (17.3%)'), (516, 683, 'PC2 (12.3%)'), (1005, 676, 'UMAP2'), (1493.5, 676, 'UMAP2')]:
    txt(x, y, s, ha='center', rotation=90)
for x, y, s in [(303, 897, 'PC1 (37.5%)'), (792.5, 897, 'PC1 (35.7%)'), (1268, 889, 'UMAP1'), (1755, 889, 'UMAP1')]:
    txt(x, y, s, ha='center')
txt(1019, 1111, r'Log$_2$ (Fold Change)', ha='center', rotation=90)
txt(1465, 1331, '\u2212Log$_{10}$ (P.adj)', ha='center')


def box_key(x0, x1, col):
    ov.plot([(x0 + x1) / 2] * 2, [10, 35], color='black', linewidth=1.8)
    ov.add_patch(Rectangle((x0, 15), x1 - x0, 16, facecolor=matplotlib.colors.to_rgba(col, .8), edgecolor='black',
                           linewidth=1.8, zorder=3))
    ov.plot([x0, x1], [23, 23], color='black', linewidth=2.6, zorder=4)


for gx, k1, nx, k2, tx in [(400, 468, 503, 579, 614), (1329.5, 1396.4, 1431.5, 1508, 1544)]:
    txt(gx, 23, 'Group', size=13.5)
    box_key(k1, k1 + 21, GREEN)
    txt(nx, 23, 'Normal', size=13.5)
    box_key(k2, k2 + 21, PURPLE)
    txt(tx, 23, 'TED', size=13.5)


def point_key(x0, col):
    ov.add_patch(Rectangle((x0, 499), 25, 26, facecolor='#F2F2F2', edgecolor=col, linewidth=2))
    ov.scatter([x0 + 12.5], [512], s=60, facecolor=matplotlib.colors.to_rgba(col, .3), edgecolor=col, linewidths=1.6,
               zorder=3)


for gx, k1, nx, k2, tx in [(177, 242.5, 279, 354, 392), (666, 732, 769, 844, 881)]:
    txt(gx, 512, 'Group', size=14)
    point_key(k1, RED)
    txt(nx, 512, 'Normal', size=14)
    point_key(k2, BLUE)
    txt(tx, 512, 'TED', size=14)

for gx, k1, nx, k2, tx in [(1142, 1220, 1245, 1332.5, 1356.5), (1629, 1707.5, 1732, 1818.6, 1844)]:
    txt(gx, 506, 'Group', size=14)
    ov.scatter([k1], [504], marker='^', s=155, color=RED, linewidths=0)
    txt(nx, 506, 'Normal', size=14)
    ov.scatter([k2], [504], marker='^', s=155, color=BLUE, linewidths=0)
    txt(tx, 506, 'TED', size=14)

for key_x, col, label_x, label in [(1324.5, '#4A28EE', 1349, 'Up'), (1398, '#777777', 1423, 'no significant'),
                                   (1560, '#E8993F', 1586, 'Down')]:
    ov.scatter([key_x], [939], marker='v', s=270, color=col, linewidths=0)
    txt(label_x, 938, label, size=14)

txt(733, 1242, 'Group', size=18)
ov.add_patch(Rectangle((734, 1269), 35, 35, facecolor=GREEN, edgecolor='none'))
ov.add_patch(Rectangle((734, 1308), 35, 35, facecolor=PURPLE, edgecolor='none'))
txt(783, 1287, 'Normal', size=16.5)
txt(783, 1326, 'TED', size=16.5)

venn_cols = [RED, BLUE, ORANGE]
for (cx, cy), col in zip([(1155.7, 1556.6), (1081.4, 1706.4), (1230.7, 1706.4)], venn_cols):
    ov.add_patch(Circle((cx, cy), 149.5, facecolor=matplotlib.colors.to_rgba(col, .4), edgecolor='black', linewidth=2.2))
for (cx, cy), col in zip([(1616.2, 1633.4), (1777.3, 1633.4)], [RED, BLUE]):
    ov.add_patch(Circle((cx, cy), 162, facecolor=matplotlib.colors.to_rgba(col, .4), edgecolor='black', linewidth=2.2))
venn_i_pos = [(1156.4, 1498), (1071.5, 1606.5), (1240, 1606.5), (1155.7, 1653), (1022, 1739), (1155.7, 1753.6),
              (1290.2, 1739)]
for (x, y), s in zip(venn_i_pos, venn_i_counts):
    txt(x, y, s, size=15.5, ha='center')
for (x, y), s in zip([(1562.8, 1634), (1695.8, 1634), (1828, 1634)], venn_j_counts):
    txt(x, y, s, size=15.5, ha='center')
for x, y, s in [(1156.4, 1378.6, 'Ferr\u2212driver'), (958.6, 1875.8, 'Ferr\u2212suppressor'),
                (1354, 1875.8, 'Ferr\u2212marker'), (1555, 1452.6, 'Ferroptosis'), (1833, 1452.6, 'DEGs')]:
    txt(x, y, s, size=19, ha='center')

fig.savefig('out.png', dpi=100)
